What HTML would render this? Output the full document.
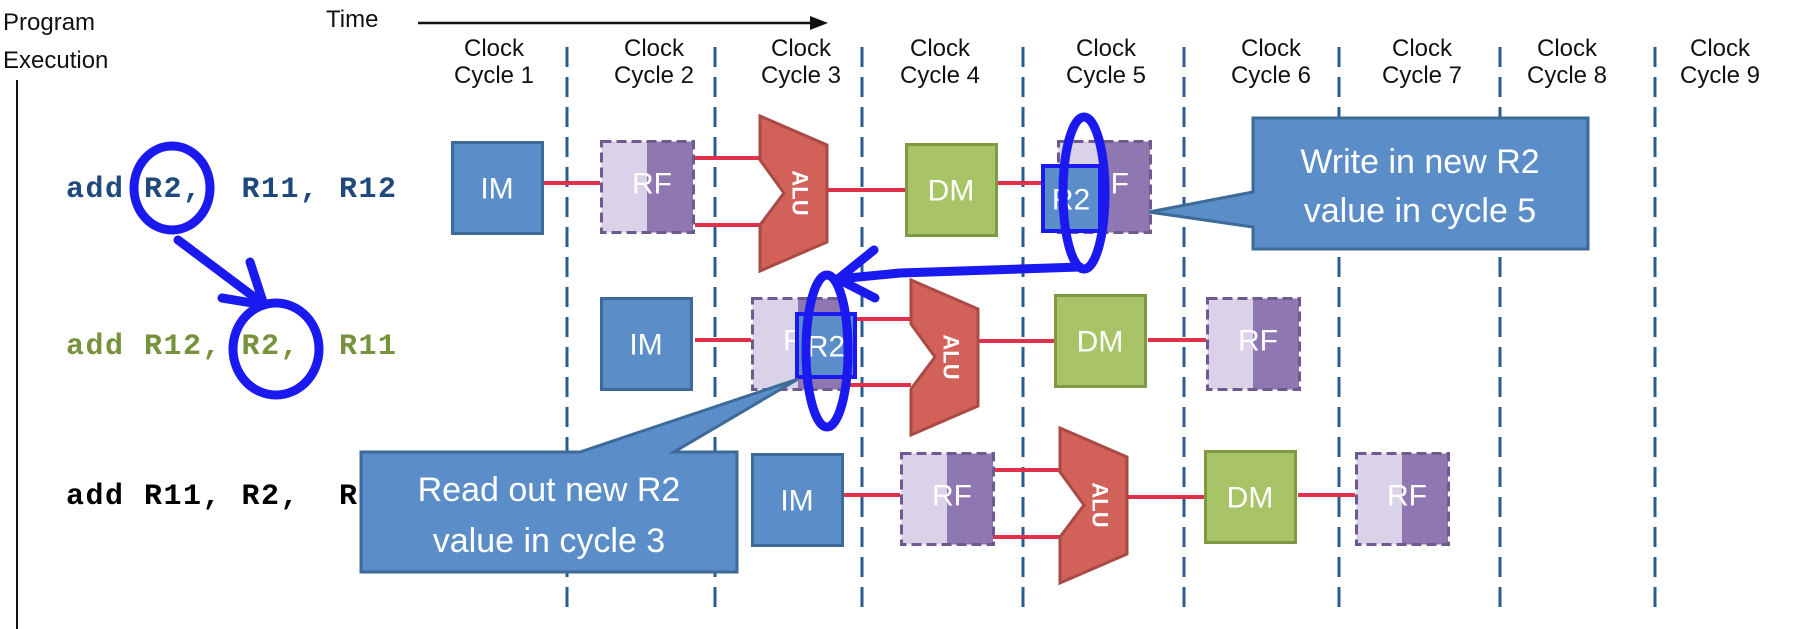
<!DOCTYPE html>
<html><head><meta charset="utf-8"><style>
html,body{margin:0;padding:0;background:#fff;}
svg{display:block}
text{font-family:"Liberation Sans",sans-serif;}
.mono{font-family:"Liberation Mono",monospace;font-weight:bold;font-size:30px;letter-spacing:1.5px}
.clk{font-size:24px;fill:#111;text-anchor:middle}
.bx{font-size:30px;fill:#fff;text-anchor:middle;dominant-baseline:central}
</style></head><body>
<svg width="1804" height="629" viewBox="0 0 1804 629" xmlns="http://www.w3.org/2000/svg">
<defs>
<g id="im"><rect x="1.5" y="1.5" width="90" height="91" fill="#5b8ec8" stroke="#3d6a98" stroke-width="3"/><text class="bx" x="46" y="48">IM</text></g>
<g id="rf"><rect x="1.5" y="1.5" width="46" height="91" fill="#dad2e8"/><rect x="47" y="1.5" width="46" height="91" fill="#8f77b2"/><rect x="1.5" y="1.5" width="92" height="91" fill="none" stroke="#6f5a90" stroke-width="3" stroke-dasharray="10,5"/><text class="bx" x="52" y="44">RF</text></g>
<g id="dm"><rect x="1.5" y="1.5" width="90" height="91" fill="#a9c466" stroke="#7f9a44" stroke-width="3"/><text class="bx" x="46" y="48">DM</text></g>
<g id="alu"><polygon points="0,0 67,29 67,126 0,155 0,109 24,77 0,44" fill="#d2615a" stroke="#a94a45" stroke-width="3"/><text x="40" y="77" font-size="22" fill="#fff" font-weight="bold" text-anchor="middle" dominant-baseline="central" transform="rotate(90 40 77)">ALU</text></g>
</defs>
<!-- left labels -->
<text x="3" y="30" font-size="24" fill="#111">Program</text>
<text x="3" y="68" font-size="24" fill="#111">Execution</text>
<line x1="17" y1="80" x2="17" y2="629" stroke="#111" stroke-width="2"/>
<text x="326" y="27" font-size="24" fill="#111">Time</text>
<line x1="418" y1="23" x2="815" y2="23" stroke="#111" stroke-width="2.5"/>
<polygon points="828,23 810,16 810,30" fill="#111"/>
<!-- dashed lines -->
<g stroke="#2a5d8f" stroke-width="3" stroke-dasharray="20,10">
<line x1="567" y1="47" x2="567" y2="610"/><line x1="715" y1="47" x2="715" y2="610"/>
<line x1="862" y1="47" x2="862" y2="610"/><line x1="1023" y1="47" x2="1023" y2="610"/>
<line x1="1184" y1="47" x2="1184" y2="610"/><line x1="1339" y1="47" x2="1339" y2="610"/>
<line x1="1500" y1="47" x2="1500" y2="610"/><line x1="1655" y1="47" x2="1655" y2="610"/>
</g>
<!-- clock labels -->
<g class="clk">
<text x="494" y="56" class="clk">Clock</text><text x="494" y="83" class="clk">Cycle 1</text>
<text x="654" y="56" class="clk">Clock</text><text x="654" y="83" class="clk">Cycle 2</text>
<text x="801" y="56" class="clk">Clock</text><text x="801" y="83" class="clk">Cycle 3</text>
<text x="940" y="56" class="clk">Clock</text><text x="940" y="83" class="clk">Cycle 4</text>
<text x="1106" y="56" class="clk">Clock</text><text x="1106" y="83" class="clk">Cycle 5</text>
<text x="1271" y="56" class="clk">Clock</text><text x="1271" y="83" class="clk">Cycle 6</text>
<text x="1422" y="56" class="clk">Clock</text><text x="1422" y="83" class="clk">Cycle 7</text>
<text x="1567" y="56" class="clk">Clock</text><text x="1567" y="83" class="clk">Cycle 8</text>
<text x="1720" y="56" class="clk">Clock</text><text x="1720" y="83" class="clk">Cycle 9</text>
</g>
<!-- code -->
<text class="mono" x="66" y="197" fill="#1f497d" xml:space="preserve">add R2,  R11, R12</text>
<text class="mono" x="66" y="354" fill="#76923c" xml:space="preserve">add R12, R2,  R11</text>
<text class="mono" x="66" y="504" fill="#000" xml:space="preserve">add R11, R2,  R12</text>
<!-- red connectors -->
<g stroke="#e0304a" stroke-width="4">
<line x1="544" y1="183" x2="600" y2="183"/><line x1="695" y1="158" x2="760" y2="158"/><line x1="695" y1="225" x2="760" y2="225"/>
<line x1="827" y1="190" x2="905" y2="190"/><line x1="998" y1="183" x2="1057" y2="183"/>
<line x1="695" y1="340" x2="751" y2="340"/><line x1="844" y1="319" x2="911" y2="319"/><line x1="844" y1="385" x2="911" y2="385"/>
<line x1="975" y1="341" x2="1054" y2="341"/><line x1="1148" y1="340" x2="1206" y2="340"/>
<line x1="844" y1="495" x2="900" y2="495"/><line x1="993" y1="470" x2="1060" y2="470"/><line x1="993" y1="537" x2="1060" y2="537"/>
<line x1="1126" y1="497" x2="1204" y2="497"/><line x1="1298" y1="495" x2="1355" y2="495"/>
</g>
<!-- row1 -->
<use href="#im" x="451" y="141"/><use href="#rf" x="600" y="140"/><use href="#alu" x="760" y="116"/>
<use href="#dm" x="905" y="143"/><use href="#rf" x="1057" y="140"/>
<!-- row2 -->
<use href="#im" x="600" y="297"/><use href="#rf" x="751" y="297"/><use href="#alu" x="911" y="280"/>
<use href="#dm" x="1054" y="294"/><use href="#rf" x="1206" y="297"/>
<!-- row3 -->
<use href="#im" x="751" y="453"/><use href="#rf" x="900" y="452"/><use href="#alu" x="1060" y="428"/>
<use href="#dm" x="1204" y="450"/><use href="#rf" x="1355" y="452"/>
<!-- R2 boxes -->
<rect x="1043" y="166" width="57" height="65" fill="#5b8ec8" stroke="#1a1af0" stroke-width="4"/>
<text class="bx" x="1071" y="200" font-size="28">R2</text>
<rect x="797" y="314" width="58" height="63" fill="#5b8ec8" stroke="#1a1af0" stroke-width="4"/>
<text class="bx" x="826" y="347" font-size="28">R2</text>
<!-- callout 1 -->
<polygon points="1253,118 1588,118 1588,249 1253,249 1253,227 1149,212 1253,192" fill="#5b8ec8" stroke="#3d6a98" stroke-width="3"/>
<text x="1420" y="173" font-size="34" fill="#fff" text-anchor="middle">Write in new R2</text>
<text x="1420" y="222" font-size="34" fill="#fff" text-anchor="middle">value in cycle 5</text>
<!-- blue annotations -->
<g fill="none" stroke="#1a1af0" stroke-width="9" stroke-linecap="round" stroke-linejoin="round">
<ellipse cx="1084" cy="193" rx="21" ry="76"/>
<ellipse cx="827" cy="351" rx="21" ry="76"/>
<ellipse cx="172" cy="188" rx="38" ry="42"/>
<ellipse cx="276" cy="349" rx="43" ry="46"/>
<polyline points="1080,267 900,273 838,279"/>
<polyline points="874,250 838,279 875,298"/>
<line x1="178" y1="240" x2="262" y2="303"/>
<polyline points="250,262 264,305 222,298"/>
</g>
<!-- callout 2 -->
<polygon points="361,452 580,452 798,379 674,452 737,452 737,572 361,572" fill="#5b8ec8" stroke="#3d6a98" stroke-width="3"/>
<text x="549" y="501" font-size="34" fill="#fff" text-anchor="middle">Read out new R2</text>
<text x="549" y="552" font-size="34" fill="#fff" text-anchor="middle">value in cycle 3</text>
</svg>
</body></html>
